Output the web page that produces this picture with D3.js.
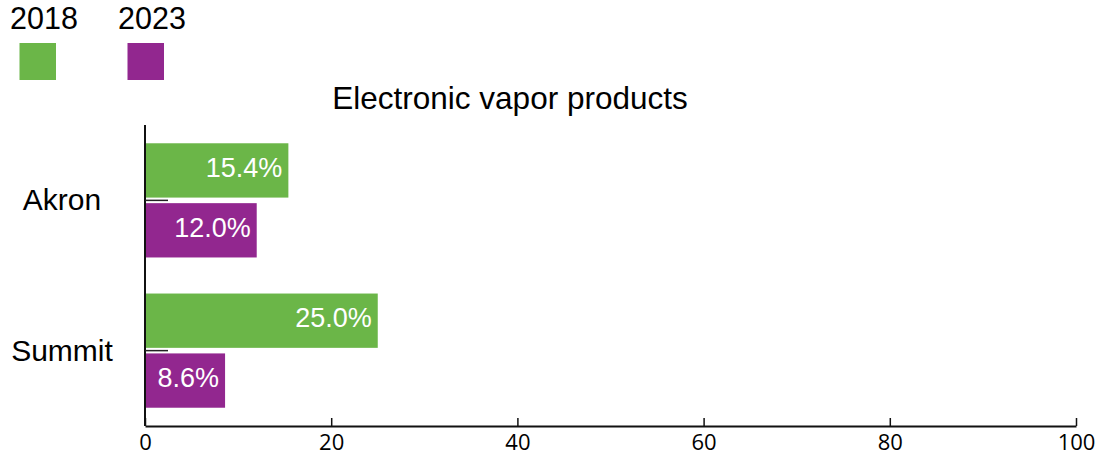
<!DOCTYPE html>
<html>
<head>
<meta charset="utf-8">
<script src="https://cdn.jsdelivr.net/npm/d3@7"></script>
<style>
  html, body { margin: 0; padding: 0; background: #fff; }
  svg { display: block; }
</style>
</head>
<body>
<div id="chart"></div>
<script>
const categories = ["Akron", "Summit"];
const seriesNames = ["2018", "2023"];
const values2018 = [15.4, 25.0];
const values2023 = [12.0, 8.6];
const xTicks = [0, 20, 40, 60, 80, 100];
const title = "Electronic vapor products";
const colors = ["#6bb648", "#92278f"];

const W = 1103, H = 457;
const svg = d3.select("#chart").append("svg").attr("width", W).attr("height", H);

const series = [values2018, values2023];
const data = categories.map((c, i) => ({ cat: c, vals: series.map((s, j) => ({ key: seriesNames[j], v: s[i], j })) }));

const x = d3.scaleLinear().domain([0, 100]).range([145, 1076]);
const y0 = d3.scaleBand().domain(categories).range([125, 426]).paddingInner(0.24).paddingOuter(0.1216);
const y1 = d3.scaleBand().domain(seriesNames).range([0, y0.bandwidth()]).paddingInner(0.093);

const sans = "Liberation Sans, Arial, sans-serif";

// Legend
const legX = [10, 118];
seriesNames.forEach((s, j) => {
  svg.append("text").attr("x", legX[j]).attr("y", 29)
    .attr("font-family", sans).attr("font-size", 30.5)
    .attr("fill", "#000").text(s);
  svg.append("rect").attr("x", legX[j] + 9.5).attr("y", 43).attr("width", 36.5).attr("height", 37)
    .attr("fill", colors[j]);
});

// Title
svg.append("text").attr("x", 510).attr("y", 109).attr("text-anchor", "middle")
  .attr("font-family", sans).attr("font-size", 31.5)
  .attr("fill", "#000").text(title);

// Bars
const g = svg.append("g");
const groups = g.selectAll("g.grp").data(data).join("g").attr("class", "grp")
  .attr("transform", d => `translate(0,${y0(d.cat)})`);
groups.selectAll("rect").data(d => d.vals).join("rect")
  .attr("x", x(0)).attr("y", d => y1(d.key))
  .attr("width", d => x(d.v) - x(0)).attr("height", y1.bandwidth())
  .attr("fill", d => colors[d.j]);
groups.selectAll("text").data(d => d.vals).join("text")
  .attr("x", d => x(d.v) - 6).attr("y", d => y1(d.key) + y1.bandwidth() / 2 + 6.5)
  .attr("text-anchor", "end").attr("fill", "#fff")
  .attr("font-family", sans).attr("font-size", 27)
  .text(d => d.v.toFixed(1) + "%");

// Y axis
const yAxisG = svg.append("g").attr("transform", `translate(${x(0)},0)`);
yAxisG.append("line").attr("x1", 0).attr("x2", 0).attr("y1", 125).attr("y2", 426)
  .attr("stroke", "#111").attr("stroke-width", 2);
categories.forEach(c => {
  const cy = y0(c) + y0.bandwidth() / 2;
  yAxisG.append("line").attr("x1", 0).attr("x2", 23).attr("y1", cy).attr("y2", cy)
    .attr("stroke", "#222").attr("stroke-width", 1.5);
  svg.append("text").attr("x", 62).attr("y", cy + 10).attr("text-anchor", "middle")
    .attr("font-family", sans).attr("font-size", 30)
    .attr("fill", "#000").text(c);
});

// X axis
const xAxis = d3.axisBottom(x).tickValues(xTicks).tickSizeInner(-8).tickSizeOuter(0).tickPadding(0);
const xg = svg.append("g").attr("transform", "translate(0,426)").call(xAxis);
xg.select(".domain").attr("stroke", "#111").attr("stroke-width", 2);
xg.selectAll(".tick line").attr("stroke", "#111").attr("stroke-width", 1.5);
xg.selectAll(".tick text").attr("y", 24).attr("dy", null)
  .attr("font-family", "Open Sans, sans-serif").attr("font-size", 22).attr("fill", "#000");
</script>
</body>
</html>
